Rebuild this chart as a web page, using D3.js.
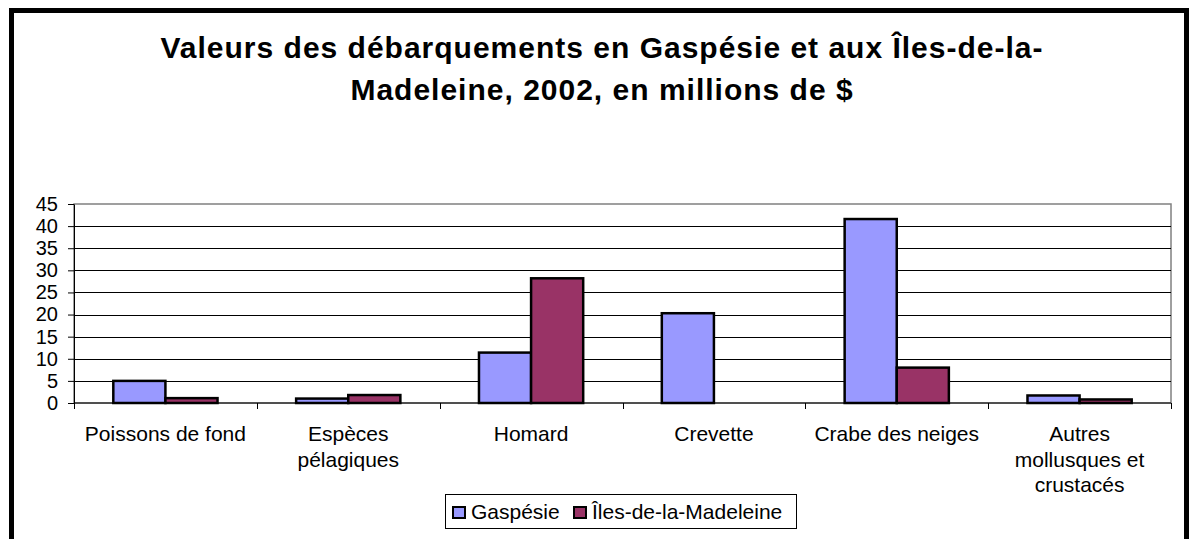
<!DOCTYPE html>
<html>
<head>
<meta charset="utf-8">
<script src="https://cdnjs.cloudflare.com/ajax/libs/d3/7.8.5/d3.min.js"></script>
<style>
  body { margin: 0; background: #fff; }
  svg { display: block; font-family: "Liberation Sans", sans-serif; }
</style>
</head>
<body>
<div class="canvas-graph"></div>
<script>
const categories = [
  ['Poissons de fond'],
  ['Espèces', 'pélagiques'],
  ['Homard'],
  ['Crevette'],
  ['Crabe des neiges'],
  ['Autres', 'mollusques et', 'crustacés']
];
const seriesNames = ['Gaspésie', 'Îles-de-la-Madeleine'];
const gaspesie = [5.0, 1.0, 11.4, 20.3, 41.6, 1.7];
const madeleine = [1.1, 1.8, 28.2, 0, 8.0, 0.8];
const yTicks = [0, 5, 10, 15, 20, 25, 30, 35, 40, 45];
const colors = ['#9999FF', '#993366'];

const width = 1190, height = 539;
const plot = { left: 74, right: 1171, top: 204, bottom: 403 };
const fontFam = '"Liberation Sans", Arial, sans-serif';

const svg = d3.select('.canvas-graph')
    .append('svg')
    .attr('width', width)
    .attr('height', height);

// outer frame (bottom edge falls outside the picture)
svg.append('rect')
    .attr('x', 11.5).attr('y', 10.5)
    .attr('width', 1175).attr('height', 560)
    .attr('fill', '#fff')
    .attr('stroke', '#000')
    .attr('stroke-width', 5);

// title
const title = svg.append('text')
    .attr('text-anchor', 'middle')
    .attr('font-family', fontFam)
    .attr('font-size', 30)
    .attr('letter-spacing', 1)
    .attr('font-weight', 'bold');
title.append('tspan').attr('x', 602).attr('y', 58)
    .text('Valeurs des débarquements en Gaspésie et aux Îles-de-la-');
title.append('tspan').attr('x', 602).attr('y', 100)
    .text('Madeleine, 2002, en millions de $');

const idx = categories.map((d, i) => i);
const x0 = d3.scaleBand()
    .domain(idx)
    .range([plot.left, plot.right])
    .paddingInner(0.43)
    .paddingOuter(0.215);
const x1 = d3.scaleBand()
    .domain([0, 1])
    .range([0, x0.bandwidth()]);
const y = d3.scaleLinear()
    .domain([0, 45])
    .range([plot.bottom, plot.top]);

// plot area border
svg.append('rect')
    .attr('x', plot.left).attr('y', plot.top)
    .attr('width', plot.right - plot.left).attr('height', plot.bottom - plot.top)
    .attr('fill', 'none')
    .attr('stroke', '#808080')
    .attr('stroke-width', 1.5);

// gridlines
svg.append('g')
    .selectAll('line')
    .data(yTicks.filter(d => d > 0 && d < 45))
    .enter().append('line')
    .attr('x1', plot.left).attr('x2', plot.right)
    .attr('y1', d => Math.round(y(d)) + 0.5)
    .attr('y2', d => Math.round(y(d)) + 0.5)
    .attr('stroke', '#000')
    .attr('stroke-width', 1);

// y axis
const yAxis = svg.append('g')
    .attr('transform', `translate(${plot.left}, 0)`)
    .call(d3.axisLeft(y).tickValues(yTicks).tickSize(6).tickSizeOuter(0).tickPadding(10));
yAxis.selectAll('text').attr('font-size', 20).attr('fill', '#000').attr('font-family', fontFam);
yAxis.selectAll('line, path').attr('stroke', '#000');

// x axis: ticks at category boundaries
const step = (plot.right - plot.left) / categories.length;
const xEdges = d3.range(categories.length + 1).map(i => plot.left + i * step);
svg.append('line')
    .attr('x1', plot.left).attr('x2', plot.right)
    .attr('y1', plot.bottom).attr('y2', plot.bottom)
    .attr('stroke', '#000');
svg.append('g').selectAll('line')
    .data(xEdges)
    .enter().append('line')
    .attr('x1', d => Math.round(d) + 0.5).attr('x2', d => Math.round(d) + 0.5)
    .attr('y1', plot.bottom).attr('y2', plot.bottom + 6)
    .attr('stroke', '#000');

// category labels
const labels = svg.append('g').selectAll('text')
    .data(categories)
    .enter().append('text')
    .attr('text-anchor', 'middle')
    .attr('font-family', fontFam)
    .attr('font-size', 21)
    .attr('x', (d, i) => x0(i) + x0.bandwidth() / 2)
    .attr('y', 441);
labels.selectAll('tspan')
    .data(d => d)
    .enter().append('tspan')
    .attr('x', function() { return this.parentNode.getAttribute('x'); })
    .attr('dy', (d, i) => i === 0 ? 0 : 25.5)
    .text(d => d);

// bars
const groups = svg.append('g').selectAll('g')
    .data(idx)
    .enter().append('g')
    .attr('transform', i => `translate(${x0(i)}, 0)`);
groups.selectAll('rect')
    .data(i => [gaspesie[i], madeleine[i]].map((v, s) => ({ v, s })).filter(d => d.v > 0))
    .enter().append('rect')
    .attr('x', d => x1(d.s))
    .attr('y', d => y(d.v))
    .attr('width', x1.bandwidth())
    .attr('height', d => y(0) - y(d.v))
    .attr('fill', d => colors[d.s])
    .attr('stroke', '#000')
    .attr('stroke-width', 2.5);

// legend
const legend = svg.append('g');
legend.append('rect')
    .attr('x', 445.5).attr('y', 494.5)
    .attr('width', 351).attr('height', 34)
    .attr('fill', '#fff')
    .attr('stroke', '#000')
    .attr('stroke-width', 1);
const legendX = [453, 574];
seriesNames.forEach((name, s) => {
    legend.append('rect')
        .attr('x', legendX[s]).attr('y', 507)
        .attr('width', 12).attr('height', 11)
        .attr('fill', colors[s])
        .attr('stroke', '#000')
        .attr('stroke-width', 2);
    legend.append('text')
        .attr('x', legendX[s] + 18).attr('y', 519)
        .attr('font-family', fontFam)
        .attr('font-size', 21)
        .text(name);
});
</script>
</body>
</html>
